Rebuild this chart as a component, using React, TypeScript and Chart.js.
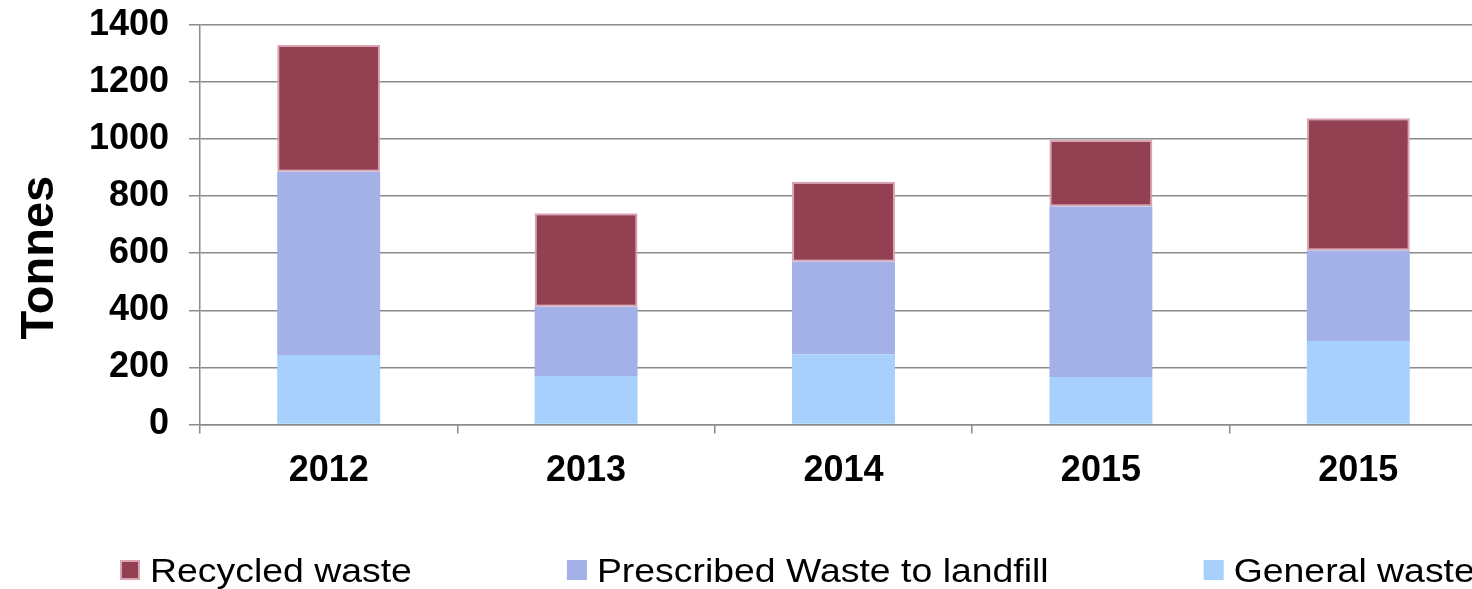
import React, { useEffect, useRef } from "react";
import { Chart, registerables } from "chart.js";

Chart.register(...registerables);

const categories = ["2012", "2013", "2014", "2015", "2015"];
const generalWaste = [243, 170, 246, 166, 292];
const prescribedWaste = [642, 242, 324, 597, 317];
const recycledWaste = [444, 328, 280, 233, 463];
const yTicks = [0, 200, 400, 600, 800, 1000, 1200, 1400];

const seriesLabels = ["General waste", "Prescribed Waste to landfill", "Recycled waste"];
const seriesColors = ["#a8d0fc", "#a4b0e8", "#934053"];
const axisTitle = "Tonnes";

const GRID = "#8a8a8a";

const customDecor = {
  id: "customDecor",
  afterDraw(chart: any) {
    const ctx = chart.ctx as CanvasRenderingContext2D;
    const area = chart.chartArea;
    // y axis title
    ctx.save();
    ctx.fillStyle = "#000";
    ctx.font = 'bold 47px "Liberation Sans", Arial, sans-serif';
    ctx.translate(area.left - 147, (area.top + area.bottom) / 2 + 33);
    ctx.rotate(-Math.PI / 2);
    ctx.textAlign = "center";
    ctx.textBaseline = "alphabetic";
    ctx.fillText(axisTitle, 0, 0);
    ctx.restore();

    // legend (reverse dataset order)
    const ds = chart.data.datasets;
    let x = 120;
    const boxY = 560;
    const box = 20;
    const stretch = 1.1;
    ctx.save();
    ctx.font = '34px "Liberation Sans", Arial, sans-serif';
    ctx.textBaseline = "alphabetic";
    ctx.textAlign = "left";
    for (let i = ds.length - 1; i >= 0; i--) {
      const d = ds[i];
      ctx.fillStyle = d.backgroundColor;
      ctx.fillRect(x, boxY, box, box);
      if (d.borderWidth) {
        ctx.strokeStyle = d.borderColor;
        ctx.lineWidth = 2;
        ctx.strokeRect(x + 1, boxY + 1, box - 2, box - 2);
      }
      const tx = x + box + 10;
      const w = ctx.measureText(d.label).width * stretch;
      ctx.save();
      ctx.translate(tx, 581.5);
      ctx.scale(stretch, 1);
      ctx.fillStyle = "#000";
      ctx.fillText(d.label, 0, 0);
      ctx.restore();
      x = tx + w + 155;
    }
    ctx.restore();
  },
};

export default function App() {
  const ref = useRef<HTMLCanvasElement | null>(null);

  useEffect(() => {
    if (!ref.current) return;
    const chart = new Chart(ref.current, {
      type: "bar",
      data: {
        labels: categories,
        datasets: [
          {
            label: seriesLabels[0],
            data: generalWaste,
            backgroundColor: seriesColors[0],
            borderWidth: 0,
          },
          {
            label: seriesLabels[1],
            data: prescribedWaste,
            backgroundColor: seriesColors[1],
            borderWidth: 0,
          },
          {
            label: seriesLabels[2],
            data: recycledWaste,
            backgroundColor: seriesColors[2],
            borderColor: "#dba4b3",
            borderWidth: 2,
            borderSkipped: false,
          },
        ],
      },
      options: {
        responsive: false,
        animation: false,
        devicePixelRatio: 1,
        layout: { padding: { top: 24.7, right: 13, bottom: 0, left: 0 } },
        datasets: { bar: { categoryPercentage: 1, barPercentage: 0.4 } },
        plugins: {
          legend: { display: false },
          tooltip: { enabled: false },
          title: { display: false },
        },
        scales: {
          x: {
            stacked: true,
            offset: true,
            grid: {
              offset: true,
              drawOnChartArea: false,
              drawTicks: true,
              tickLength: 9,
              color: GRID,
              lineWidth: 1.5,
            },
            border: { color: GRID, width: 1.5 },
            ticks: {
              color: "#000",
              padding: 16,
              font: { family: '"Liberation Sans", Arial, sans-serif', size: 36, weight: "bold" },
              maxRotation: 0,
              autoSkip: false,
            },
            afterFit: (scale: any) => {
              scale.height = 164.5;
            },
          },
          y: {
            stacked: true,
            min: 0,
            max: 1400,
            afterBuildTicks: (scale: any) => {
              scale.ticks = yTicks.map((v) => ({ value: v }));
            },
            grid: {
              color: GRID,
              lineWidth: 1.5,
              drawTicks: true,
              tickLength: 11,
            },
            border: { color: GRID, width: 1.5 },
            ticks: {
              color: "#000",
              padding: 20,
              font: {
                family: '"Liberation Sans", Arial, sans-serif',
                size: 36,
                weight: "bold",
                lineHeight: 0.2,
              },
              callback: (v: any) => String(v),
            },
            afterFit: (scale: any) => {
              scale.width = 200;
            },
          },
        },
      },
      plugins: [customDecor],
    } as any);
    return () => chart.destroy();
  }, []);

  return (
    <div
      style={{
        position: "fixed",
        left: 0,
        top: 0,
        width: 1472,
        height: 589,
        overflow: "hidden",
        background: "#fff",
      }}
    >
      <canvas ref={ref} width={1500} height={589} style={{ display: "block" }} />
    </div>
  );
}
